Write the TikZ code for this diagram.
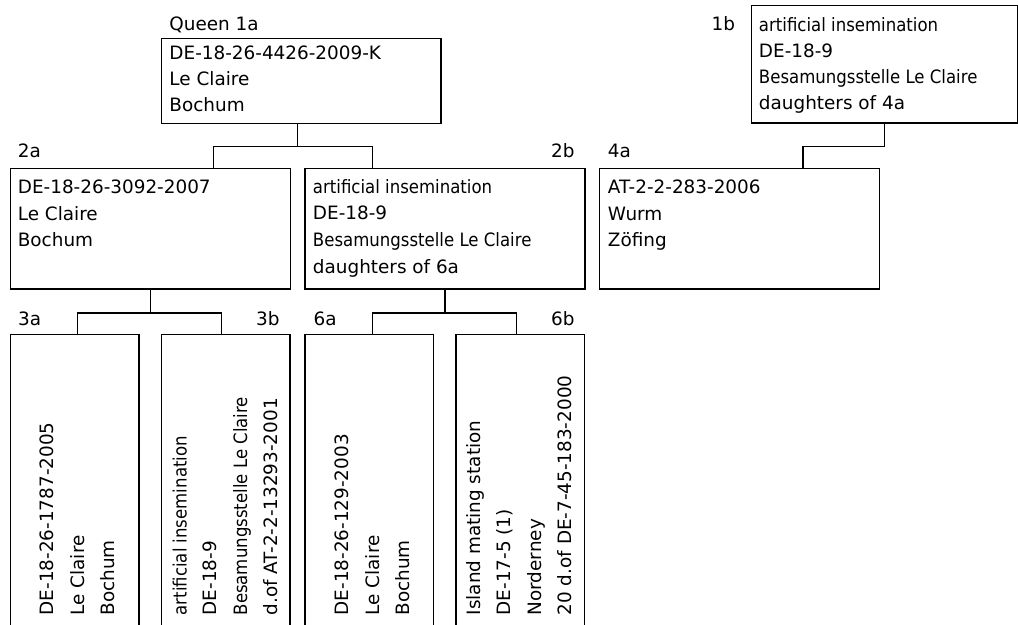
\documentclass[tikz,border=0pt]{standalone}
\usepackage{fontspec}
\setmainfont{DejaVu Sans}
\newfontfamily\narrow[FakeStretch=0.9]{DejaVu Sans}

\begin{document}
\begin{tikzpicture}[x=0.75pt,y=-0.75pt,line width=1pt,
  box/.style={draw,inner sep=0pt,anchor=north west},
  wide/.style={box,minimum width=210pt,minimum height=90.45pt},
  tall/.style={box,minimum width=96.45pt,minimum height=300pt},
  tag/.style={inner sep=0pt,font=\fontsize{13.8}{16}\selectfont},
  txt/.style={inner sep=0pt,anchor=base west,align=left,font=\fontsize{13.8}{20}\selectfont},
  vtxt/.style={txt,rotate=90,font=\fontsize{13.8}{22.7}\selectfont}]
\useasboundingbox (0,0) rectangle (1018,625);
\clip (0,0) rectangle (1018,625);
% boxes
\node[box,minimum width=209.7pt,minimum height=63.75pt] (box1a) at (160.8,37.5) {};
\node[box,minimum width=199.7pt,minimum height=88pt] (box1b) at (751,5) {};
\node[wide] (box2a) at (9.6,167.7) {};
\node[wide] (box2b) at (304.2,167.7) {};
\node[wide] (box4a) at (599,167.7) {};
\node[tall] (box3a) at (9.6,333.7) {};
\node[tall] (box3b) at (160.7,333.7) {};
\node[tall] (box6a) at (304.2,333.7) {};
\node[tall] (box6b) at (455.4,333.7) {};
% where the lines meet the boxes
\foreach \n/\x/\y in {2a/213.4/167.7, 2b/372.4/167.7, 4a/803/167.7,
    3a/77.7/333.7, 3b/221.2/333.7, 6a/372.4/333.7, 6b/516.2/333.7}
  \coordinate (in\n) at (\x,\y);
\draw ([xshift=-3pt]box1a.south) -- ++(0,22.5) coordinate (j1a) -| (in2a) (j1a) -| (in2b);
\draw (box1b.south) -- ++(0,22.7) -| (in4a);
\draw (box2a.south) -- ++(0,23.4) coordinate (j2a) -| (in3a) (j2a) -| (in3b);
\draw (box2b.south) -- ++(0,23.4) coordinate (j2b) -| (in6a) (j2b) -| (in6b);
% labels
\node[tag,anchor=base west] (lab1a) at (168.8,30) {Queen 1a};
\node[tag,anchor=base east] (lab1b) at (735.7,30) {1b};
\node[tag,anchor=base west] (lab2a) at (17.2,157) {2a};
\node[tag,anchor=base east] (lab2b) at (575.2,157) {2b};
\node[tag,anchor=base west] (lab4a) at (607.3,157) {4a};
\node[tag,anchor=base west] (lab3a) at (17.5,325) {3a};
\node[tag,anchor=base east] (lab3b) at (280.1,325) {3b};
\node[tag,anchor=base west] (lab6a) at (313,325) {6a};
\node[tag,anchor=base east] (lab6b) at (575.2,325) {6b};
% texts (anchored at the last line)
\node[txt,font=\fontsize{13.8}{19.4}\selectfont] (txt1a) at (168.8,111) {DE-18-26-4426-2009-K\\Le Claire\\Bochum};
\node[txt,font=\fontsize{13.8}{19.5}\selectfont] (txt1b) at (758.3,109.5) {{\narrow artificial insemination}\\DE-18-9\\{\narrow Besamungsstelle Le Claire}\\daughters of 4a};
\node[txt] (txt2a) at (17.2,246.7) {DE-18-26-3092-2007\\Le Claire\\Bochum};
\node[txt] (txt2b) at (312.3,273.3) {{\narrow artificial insemination}\\DE-18-9\\{\narrow Besamungsstelle Le Claire}\\daughters of 6a};
\node[txt] (txt4a) at (607.3,246.7) {AT-2-2-283-2006\\Wurm\\Zöfing};
\node[vtxt] (txt3a) at (114.5,616) {DE-18-26-1787-2005\\Le Claire\\Bochum};
\node[vtxt] (txt3b) at (277.5,616) {{\narrow artificial insemination}\\DE-18-9\\{\narrow Besamungsstelle Le Claire}\\d.of AT-2-2-13293-2001};
\node[vtxt] (txt6a) at (409.5,616) {DE-18-26-129-2003\\Le Claire\\Bochum};
\node[vtxt] (txt6b) at (571.5,616) {Island mating station\\DE-17-5 (1)\\Norderney\\20 d.of DE-7-45-183-2000};
\end{tikzpicture}
\end{document}
